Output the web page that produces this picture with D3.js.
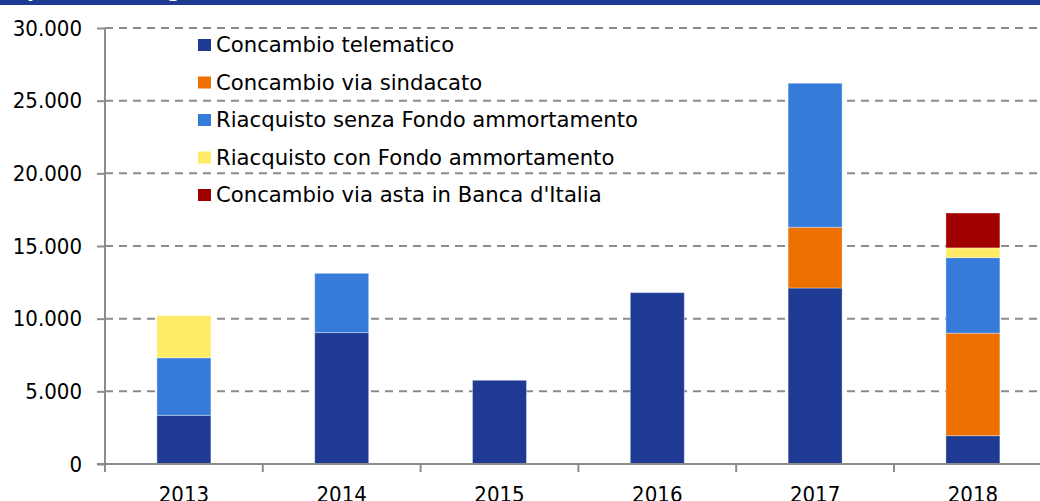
<!DOCTYPE html>
<html>
<head>
<meta charset="utf-8">
<script src="https://cdn.jsdelivr.net/npm/d3@7"></script>
<style>
  html, body { margin: 0; padding: 0; background: #fff; }
  svg { display: block; }
  text { font-family: "DejaVu Sans", sans-serif; fill: #000; }
  .num { font-family: "DejaVu Sans Condensed", "DejaVu Sans", sans-serif; font-size: 22px; }
</style>
</head>
<body>
<svg id="chart" width="1040" height="501"></svg>
<script>
// Years on the category axis
const years = ["2013", "2014", "2015", "2016", "2017", "2018"];

// Series names (legend order = stacking order)
const seriesNames = [
  "Concambio telematico",
  "Concambio via sindacato",
  "Riacquisto senza Fondo ammortamento",
  "Riacquisto con Fondo ammortamento",
  "Concambio via asta in Banca d'Italia"
];

// Values in millions of euro, per year
const concambioTelematico   = [3350, 9040, 5760, 11790, 12110, 1950];
const concambioSindacato    = [0, 0, 0, 0, 4180, 7050];
const riacquistoSenzaFondo  = [3960, 4080, 0, 0, 9910, 5200];
const riacquistoConFondo    = [2900, 0, 0, 0, 0, 670];
const concambioAstaBI       = [0, 0, 0, 0, 0, 2400];

// Y axis ticks
const yTicks = [0, 5000, 10000, 15000, 20000, 25000, 30000];

const colors = ["#1f3a93", "#ed7000", "#367bda", "#ffeb66", "#a00000"];

const seriesValues = [concambioTelematico, concambioSindacato, riacquistoSenzaFondo, riacquistoConFondo, concambioAstaBI];
const table = years.map((yr, i) => {
  const row = { year: yr };
  seriesNames.forEach((s, k) => row[s] = seriesValues[k][i]);
  return row;
});

const svg = d3.select("#chart");
const fmt = v => d3.format(",")(v).replace(/,/g, ".");

const plotLeft = 105, plotBottom = 464, plotTop = 28;
const step = 157.8;

const x = d3.scaleBand().domain(years)
  .range([plotLeft, plotLeft + step * years.length])
  .paddingInner(0.658).paddingOuter(0.329);
const xCat = d3.scaleBand().domain(years).range([plotLeft, plotLeft + step * years.length]).padding(0);
const y = d3.scaleLinear().domain([0, 30000]).range([plotBottom, plotTop]);

// Header band with clipped title
svg.append("defs").append("clipPath").attr("id", "hdr")
  .append("rect").attr("x", 0).attr("y", 0).attr("width", 1040).attr("height", 5);
svg.append("rect").attr("x", 0).attr("y", 0).attr("width", 1040).attr("height", 5).attr("fill", "#1f3a93");
svg.append("g").attr("clip-path", "url(#hdr)")
  .append("text").attr("x", 10).attr("y", -3)
  .style("fill", "#fff").style("font-size", "20px").style("font-weight", "bold")
  .text("Operazioni di gestione del debito (milioni di euro)");

// Dashed horizontal gridlines
svg.append("g").selectAll("line").data(yTicks.filter(t => t > 0)).join("line")
  .attr("x1", plotLeft).attr("x2", 1040)
  .attr("y1", d => y(d)).attr("y2", d => y(d))
  .attr("stroke", "#8c8c8c").attr("stroke-width", 2)
  .attr("stroke-dasharray", "8,6");

// Stacked bars
const stack = d3.stack().keys(seriesNames)(table);
svg.append("g").selectAll("g").data(stack).join("g")
  .attr("fill", (d, i) => colors[i])
  .selectAll("rect").data(d => d.filter(p => p[1] - p[0] > 0)).join("rect")
  .attr("x", d => x(d.data.year))
  .attr("width", x.bandwidth())
  .attr("y", d => y(d[1]))
  .attr("height", d => y(d[0]) - y(d[1]))
  .attr("stroke", "rgba(255,255,255,0.35)")
  .attr("stroke-width", 1);

// Y axis
const yAxis = svg.append("g").attr("transform", `translate(${plotLeft},0)`)
  .call(d3.axisLeft(y).tickValues(yTicks).tickFormat(fmt).tickSize(8).tickPadding(15));
yAxis.attr("font-family", null).attr("font-size", null);
yAxis.select(".domain").attr("stroke", "#8c8c8c").attr("stroke-width", 2).attr("d", `M0,${plotTop}V${plotBottom}`);
yAxis.selectAll(".tick line").attr("stroke", "#8c8c8c").attr("stroke-width", 2);
yAxis.selectAll(".tick text").attr("class", "num").attr("fill", "#000");

// X axis with category boundary ticks
const xg = svg.append("g");
xg.append("line").attr("x1", plotLeft - 8).attr("x2", 1040).attr("y1", plotBottom).attr("y2", plotBottom)
  .attr("stroke", "#8c8c8c").attr("stroke-width", 2);
xg.selectAll("line.tk").data(years).join("line").attr("class", "tk")
  .attr("x1", d => xCat(d)).attr("x2", d => xCat(d))
  .attr("y1", plotBottom).attr("y2", plotBottom + 8)
  .attr("stroke", "#8c8c8c").attr("stroke-width", 2);
xg.selectAll("text").data(years).join("text")
  .attr("class", "num")
  .attr("x", d => x(d) + x.bandwidth() / 2).attr("y", 502)
  .attr("text-anchor", "middle")
  .text(d => d);

// Legend
const lg = svg.append("g").selectAll("g").data(seriesNames).join("g")
  .attr("transform", (d, i) => `translate(198,${45 + i * 37.5})`);
lg.append("rect").attr("x", 0).attr("y", -6).attr("width", 13).attr("height", 12)
  .attr("fill", (d, i) => colors[i]);
lg.append("text").attr("x", 18).attr("y", 7.3).style("font-size", "21.2px").text(d => d);
</script>
</body>
</html>
